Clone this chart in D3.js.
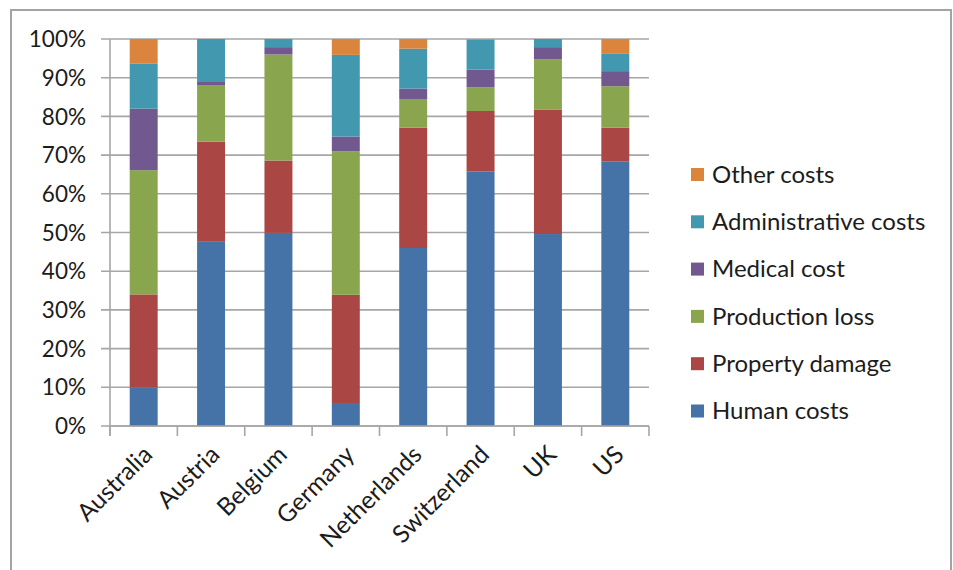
<!DOCTYPE html>
<html>
<head>
<meta charset="utf-8">
<script src="https://cdn.jsdelivr.net/npm/d3@7"></script>
<style>
  html, body { margin: 0; padding: 0; background: #fff; }
  svg { display: block; }
  text { font-family: Lato, "Open Sans", sans-serif; fill: #1c1c1c; }
</style>
</head>
<body>
<svg id="chart" width="953" height="570"></svg>
<script>
// Countries on the category axis
const categories = ["Australia", "Austria", "Belgium", "Germany", "Netherlands", "Switzerland", "UK", "US"];

// Share of total cost per component (%), stacked bottom to top
const humanCosts          = [10.0, 47.6, 49.9,  5.7, 46.0, 65.8, 49.6, 68.4];
const propertyDamage      = [24.0, 25.9, 18.7, 28.2, 31.1, 15.6, 32.1,  8.7];
const productionLoss      = [32.1, 14.6, 27.4, 37.1,  7.4,  6.1, 13.0, 10.7];
const medicalCost         = [15.9,  1.0,  1.9,  3.8,  2.7,  4.6,  3.2,  3.9];
const administrativeCosts = [11.7, 10.9,  2.1, 21.1, 10.3,  7.7,  2.1,  4.6];
const otherCosts          = [ 6.3,  0.0,  0.0,  4.1,  2.5,  0.2,  0.0,  3.7];

const seriesNames = ["Human costs", "Property damage", "Production loss", "Medical cost", "Administrative costs", "Other costs"];
const seriesValues = [humanCosts, propertyDamage, productionLoss, medicalCost, administrativeCosts, otherCosts];
const seriesColors = ["#4572A7", "#AA4643", "#89A54E", "#71588F", "#4198AF", "#DB843D"];

const yTicks = [0, 0.1, 0.2, 0.3, 0.4, 0.5, 0.6, 0.7, 0.8, 0.9, 1.0];

const rows = categories.map((c, i) => {
  const r = { category: c };
  seriesNames.forEach((s, j) => { r[s] = seriesValues[j][i]; });
  return r;
});

const svg = d3.select("#chart");

// chart frame
svg.append("rect")
  .attr("x", 11).attr("y", 10)
  .attr("width", 940).attr("height", 600)
  .attr("fill", "none").attr("stroke", "#a3a3a3").attr("stroke-width", 2);

const plot = { left: 110, right: 649, top: 39, bottom: 426 };

const x = d3.scaleBand()
  .domain(categories)
  .range([plot.left, plot.right])
  .paddingInner(0.585)
  .paddingOuter(0.2925);

const y = d3.scaleLinear().domain([0, 1]).range([plot.bottom, plot.top]);

const stack = d3.stack().keys(seriesNames).offset(d3.stackOffsetExpand);
const layers = stack(rows);

// horizontal gridlines with outward ticks on the value axis
svg.append("g")
  .selectAll("line")
  .data(yTicks)
  .join("line")
  .attr("x1", plot.left - 9).attr("x2", plot.right)
  .attr("y1", d => y(d)).attr("y2", d => y(d))
  .attr("stroke", "#a6a6a6").attr("stroke-width", 1.6);

// value axis labels
svg.append("g")
  .selectAll("text")
  .data(yTicks)
  .join("text")
  .attr("x", 86)
  .attr("y", d => y(d))
  .attr("dy", "0.36em")
  .attr("text-anchor", "end")
  .style("font-size", "22.5px")
  .text(d => d3.format(".0%")(d));

// stacked bars
svg.append("g")
  .selectAll("g")
  .data(layers)
  .join("g")
  .attr("fill", (d, i) => seriesColors[i])
  .selectAll("rect")
  .data(d => d)
  .join("rect")
  .attr("x", d => x(d.data.category))
  .attr("width", x.bandwidth())
  .attr("y", d => y(d[1]))
  .attr("height", d => Math.max(0, y(d[0]) - y(d[1])));

// value axis line
svg.append("line")
  .attr("x1", plot.left).attr("x2", plot.left)
  .attr("y1", plot.top).attr("y2", plot.bottom + 10)
  .attr("stroke", "#a6a6a6").attr("stroke-width", 1.6);

// category axis line and tick marks between categories
svg.append("line")
  .attr("x1", plot.left).attr("x2", plot.right)
  .attr("y1", plot.bottom).attr("y2", plot.bottom)
  .attr("stroke", "#a6a6a6").attr("stroke-width", 1.6);

const step = x.step();
svg.append("g")
  .selectAll("line")
  .data(d3.range(categories.length + 1))
  .join("line")
  .attr("x1", i => plot.left + i * step).attr("x2", i => plot.left + i * step)
  .attr("y1", plot.bottom).attr("y2", plot.bottom + 10)
  .attr("stroke", "#a6a6a6").attr("stroke-width", 1.6);

// rotated category labels
svg.append("g")
  .selectAll("text")
  .data(categories)
  .join("text")
  .attr("transform", d => `translate(${x(d) + x.bandwidth() / 2 - 2},${plot.bottom + 18}) rotate(-45)`)
  .attr("text-anchor", "end")
  .attr("dy", "0.7em")
  .style("font-size", "24.5px")
  .text(d => d);

// legend, top entry is the last stacked series
const legendItems = seriesNames.map((s, i) => ({ name: s, color: seriesColors[i] })).reverse();
const legend = svg.append("g")
  .selectAll("g")
  .data(legendItems)
  .join("g")
  .attr("transform", (d, i) => `translate(691,${174 + i * 47.3})`);

legend.append("rect")
  .attr("x", 0).attr("y", -6)
  .attr("width", 13).attr("height", 13)
  .attr("fill", d => d.color);

legend.append("text")
  .attr("x", 21)
  .attr("y", 0)
  .attr("dy", "0.36em")
  .style("font-size", "24px")
  .text(d => d.name);
</script>
</body>
</html>
